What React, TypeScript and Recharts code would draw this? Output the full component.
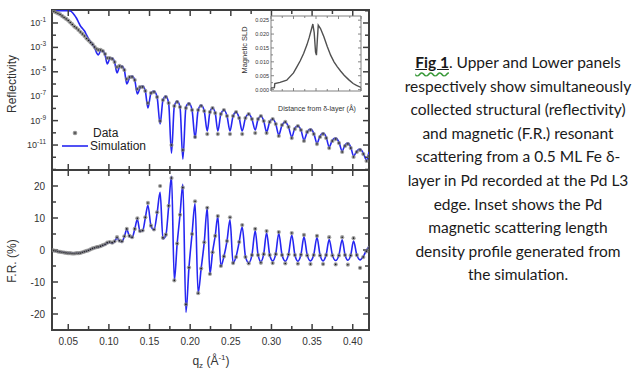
import React from "react";
import { ComposedChart, LineChart, Line, XAxis, YAxis, ReferenceArea, ReferenceLine } from "recharts";

// q grid (Å^-1): dense at low q, then four points per fringe
const qValues = [
  0.030, 0.0325, 0.035, 0.0375, 0.040, 0.0425, 0.045, 0.0475, 0.050, 0.0525, 0.055, 0.0575,
  0.060, 0.0625, 0.065, 0.0675, 0.070, 0.0725, 0.075, 0.0775, 0.080, 0.0825, 0.085,
  0.087, 0.0898, 0.0925, 0.0953,
  0.098, 0.101, 0.104, 0.107,
  0.110, 0.113, 0.116, 0.119,
  0.122, 0.1253, 0.1285, 0.1318,
  0.135, 0.1383, 0.1415, 0.1448,
  0.148, 0.1518, 0.1555, 0.1593,
  0.163, 0.1665, 0.170, 0.1735,
  0.177, 0.1805, 0.184, 0.1875,
  0.191, 0.1948, 0.1985, 0.2023,
  0.206, 0.2098, 0.2135, 0.2173,
  0.221, 0.2243, 0.2275, 0.2308,
  0.234, 0.2378, 0.2415, 0.2453,
  0.249, 0.2528, 0.2565, 0.2603,
  0.264, 0.268, 0.272, 0.276,
  0.280, 0.2835, 0.287, 0.2905,
  0.294, 0.2978, 0.3015, 0.3053,
  0.309, 0.313, 0.317, 0.321,
  0.325, 0.3288, 0.3325, 0.3363,
  0.340, 0.344, 0.348, 0.352,
  0.356, 0.3598, 0.3635, 0.3673,
  0.371, 0.375, 0.379, 0.383,
  0.387, 0.3905, 0.394, 0.3975,
  0.401, 0.405, 0.409, 0.413,
  0.417, 0.420,
];

// reflectivity, as log10 exponents
const simLogR = [
  0, 0, 0, 0, 0, 0, 0, 0, 0, -0.02, -0.14, -0.34,
  -0.59, -0.92, -1.25, -1.45, -1.66, -1.98, -2.31, -2.56, -2.76, -3.05, -3.46,
  -3.62, -3.30, -3.30, -3.62,
  -4.36, -3.95, -3.87, -4.20,
  -5.10, -4.61, -4.52, -4.85,
  -6.00, -5.51, -5.34, -5.67,
  -6.82, -6.33, -6.16, -6.57,
  -7.97, -6.74, -6.57, -7.07,
  -9.28, -7.31, -6.98, -7.56,
  -11.66, -7.80, -7.39, -7.89,
  -12.15, -7.89, -7.56, -8.13,
  -10.43, -8.13, -7.72, -8.21,
  -9.85, -8.30, -7.97, -8.38,
  -9.85, -8.46, -8.13, -8.62,
  -9.85, -8.62, -8.30, -8.79,
  -9.85, -8.79, -8.46, -8.87,
  -9.77, -8.87, -8.62, -9.03,
  -9.93, -9.11, -8.87, -9.28,
  -10.18, -9.36, -9.11, -9.52,
  -10.34, -9.61, -9.44, -9.77,
  -10.59, -9.93, -9.69, -10.02,
  -10.84, -10.26, -10.02, -10.34,
  -11.16, -10.59, -10.43, -10.75,
  -11.49, -11.00, -10.84, -11.16,
  -11.90, -11.49, -11.33, -11.66,
  -12.23, -11.57,
];

const dataLogR = [
  -0.02, -0.06, -0.14, -0.22, -0.30, -0.43, -0.55, -0.67, -0.80, -0.96, -1.12, -1.29,
  -1.41, -1.57, -1.74, -1.90, -2.07, -2.27, -2.43, -2.60, -2.76, -2.97, -3.13,
  -3.21, -3.21, -3.30, -3.54,
  -3.87, -3.87, -3.95, -4.20,
  -4.61, -4.52, -4.61, -4.85,
  -5.59, -5.43, -5.43, -5.67,
  -6.41, -6.25, -6.25, -6.57,
  -7.56, -6.74, -6.66, -7.07,
  -9.03, -7.31, -7.07, -7.56,
  -11.00, -7.80, -7.48, -7.89,
  -11.41, -7.97, -7.64, -8.13,
  -10.34, -8.13, -7.80, -8.21,
  -10.10, -8.30, -7.97, -8.38,
  -10.10, -8.46, -8.13, -8.62,
  -10.10, -8.62, -8.30, -8.79,
  -10.10, -8.79, -8.46, -8.87,
  -10.02, -8.87, -8.62, -9.03,
  -10.02, -9.11, -8.87, -9.28,
  -10.26, -9.36, -9.11, -9.52,
  -10.43, -9.69, -9.44, -9.77,
  -10.67, -9.93, -9.77, -10.10,
  -10.92, -10.34, -10.10, -10.43,
  -11.25, -10.67, -10.51, -10.84,
  -11.57, -11.08, -10.92, -11.25,
  -11.98, -11.57, -11.41, -11.74,
  -12.31, -11.90,
];

// flipping ratio (%)
const simFR = [
  0.0, -0.15, -0.3, -0.45, -0.55, -0.65, -0.75, -0.85, -0.9, -1.0, -1.0, -1.05,
  -1.0, -0.95, -0.85, -0.7, -0.5, -0.3, -0.05, 0.2, 0.45, 0.7, 0.85,
  0.9, 1.2, 1.4, 1.7,
  2.2, 2.4, 2.2, 2.6,
  3.8, 2.8, 2.6, 4.2,
  6.4, 4.3, 3.9, 6.5,
  9.6, 5.8, 6.0, 10.0,
  14.0, 7.5, 6.3, 11.5,
  18.0, 3.5, 4.5, 13.5,
  23.0, -9.5, 2.0, 11.0,
  20.5, -19.5, -5.5, 5.0,
  14.5, -13.5, -5.8, 2.4,
  13.2, -7.5, -0.7, 4.4,
  10.5, -5.0, -2.0, 2.8,
  9.4, -4.1, -2.0, 2.5,
  7.2, -2.0, -4.0, -1.5,
  6.0, -1.5, -3.6, -1.2,
  5.4, -1.5, -3.4, -1.2,
  5.2, -1.5, -3.5, -1.3,
  4.7, -1.5, -3.5, -1.4,
  4.1, -1.6, -3.4, -1.5,
  3.9, -1.6, -3.4, -1.5,
  3.3, -1.6, -3.3, -1.6,
  3.2, -1.5, -3.2, -1.6,
  2.8, -1.5, -3.1, -2.0,
  0.0, 1.0,
];

const dataFR = [
  0.0, -0.2, -0.3, -0.5, -0.6, -0.7, -0.8, -0.9, -1.0, -1.0, -1.1, -1.1,
  -1.0, -1.0, -0.9, -0.7, -0.5, -0.3, -0.1, 0.2, 0.5, 0.7, 0.9,
  1.0, 1.2, 1.5, 1.8,
  2.3, 2.5, 2.3, 2.7,
  4.0, 2.9, 2.7, 4.3,
  6.6, 4.4, 4.0, 6.6,
  9.9, 5.9, 6.1, 10.2,
  14.7, 7.6, 6.4, 11.8,
  20.0, 3.8, 4.8, 13.8,
  22.5, -9.5, 2.0, 11.0,
  19.5, -17.0, -5.5, 5.0,
  15.2, -13.5, -5.8, 2.4,
  13.2, -7.5, -0.7, 4.4,
  10.6, -5.0, -2.0, 2.8,
  10.2, -4.1, -2.2, 2.5,
  7.8, -2.2, -4.2, -1.6,
  6.6, -1.6, -4.0, -1.3,
  5.9, -1.6, -4.1, -1.3,
  5.6, -1.6, -4.2, -1.4,
  5.3, -1.6, -4.3, -1.5,
  4.7, -1.7, -4.4, -1.6,
  4.4, -1.7, -4.4, -1.6,
  4.0, -1.7, -4.5, -1.7,
  4.0, -1.6, -4.6, -1.7,
  3.7, -1.6, -5.6, -2.2,
  -0.4, 0.6,
];

// inset: magnetic SLD profile
const depth = [
  -20, -18.5, -18.3, -16, -13, -10, -8.5, -7, -5.5, -4, -3, -2, -1.4, -0.8, -0.2,
  0.2, 0.6, 1.0, 2, 3.5, 5, 6.5, 8, 9.5, 11, 12.5, 14.5, 16.5, 18, 20,
];
const magSLD = [
  0.0006, 0.0007, 0.0022, 0.0026, 0.0034, 0.006, 0.0082, 0.0104, 0.013, 0.0162, 0.0188,
  0.0218, 0.0236, 0.0205, 0.0135, 0.0124, 0.018, 0.0232, 0.022, 0.019, 0.0155, 0.0124,
  0.01, 0.0082, 0.0066, 0.0052, 0.0036, 0.0022, 0.0015, 0.0008,
];

const qTicks = [0.05, 0.075, 0.1, 0.125, 0.15, 0.175, 0.2, 0.225, 0.25, 0.275, 0.3, 0.325, 0.35, 0.375, 0.4];
const reflTicks = [1, 1e-1, 1e-2, 1e-3, 1e-4, 1e-5, 1e-6, 1e-7, 1e-8, 1e-9, 1e-10, 1e-11, 1e-12, 1e-13];
const frTicks = [-20, -15, -10, -5, 0, 5, 10, 15, 20];
const depthTicks = [-20, -15, -10, -5, 0, 5, 10, 15, 20];
const sldTicks = [0, 0.0025, 0.005, 0.0075, 0.01, 0.0125, 0.015, 0.0175, 0.02, 0.0225, 0.025];

const Q_DOMAIN: [number, number] = [0.03, 0.42];
const R_DOMAIN: [number, number] = [9e-14, 1.16];
const FR_DOMAIN: [number, number] = [-25, 25];
const D_DOMAIN: [number, number] = [-20, 20];
const SLD_DOMAIN: [number, number] = [-0.0005, 0.0265];

const rows = qValues.map((q, i) => ({
  q,
  sim: 10 ** simLogR[i],
  data: 10 ** dataLogR[i],
  simFR: simFR[i],
  dataFR: dataFR[i],
}));
const profile = depth.map((d, i) => ({ d, sld: magSLD[i] }));

const FONT = "'Liberation Sans', Arial, sans-serif";
const AX = "#3f3f3f";
const BLUE = "#2626f2";

// plot boxes in px, used to turn a tick length into data units
const MAIN_W = 317;
const MAIN_H = 160;
const INSET_W = 90;
const INSET_H = 75;
const Q_PX = (Q_DOMAIN[1] - Q_DOMAIN[0]) / MAIN_W;
const RDEC_PX = Math.log10(R_DOMAIN[1] / R_DOMAIN[0]) / MAIN_H;
const FR_PX = (FR_DOMAIN[1] - FR_DOMAIN[0]) / MAIN_H;
const D_PX = (D_DOMAIN[1] - D_DOMAIN[0]) / INSET_W;
const SLD_PX = (SLD_DOMAIN[1] - SLD_DOMAIN[0]) / INSET_H;

const qMajor = (v: number) => Math.round(v * 1000) % 50 === 0;
const logExp = (v: number) => Math.round(Math.log10(v));
const logMajor = (v: number) => {
  const e = logExp(v);
  return e % 2 !== 0 && e >= -11;
};
const frMajor = (v: number) => v % 10 === 0;
const dMajor = (v: number) => v % 10 === 0;
const sldMajor = (v: number) => Math.round(v * 10000) % 50 === 0;

type Pt = { x: number; y: number };
const tickSeg = (key: string, a: Pt, b: Pt, color = AX, w = 1.5) => (
  <ReferenceLine key={key} segment={[a, b]} stroke={color} strokeWidth={w} ifOverflow="visible" />
);

// inward tick marks for a framed panel
function frameTicks(
  id: string,
  xt: number[],
  yt: number[],
  xd: [number, number],
  yd: [number, number],
  xMajor: (v: number) => boolean,
  yMajor: (v: number) => boolean,
  lens: [number, number],
  xStep: (x: number, px: number) => number,
  yStep: (y: number, px: number) => number,
  color = AX,
  w = 1.5
) {
  const out: React.ReactNode[] = [];
  xt.forEach((v) => {
    const L = xMajor(v) ? lens[0] : lens[1];
    out.push(tickSeg(`${id}b${v}`, { x: v, y: yd[0] }, { x: v, y: yStep(yd[0], L) }, color, w));
    out.push(tickSeg(`${id}t${v}`, { x: v, y: yd[1] }, { x: v, y: yStep(yd[1], -L) }, color, w));
  });
  yt.forEach((v) => {
    const L = yMajor(v) ? lens[0] : lens[1];
    out.push(tickSeg(`${id}l${v}`, { x: xd[0], y: v }, { x: xStep(xd[0], L), y: v }, color, w));
    out.push(tickSeg(`${id}r${v}`, { x: xd[1], y: v }, { x: xStep(xd[1], -L), y: v }, color, w));
  });
  return out;
}

const linStep = (per: number) => (v: number, px: number) => v + px * per;
const logStep = (v: number, px: number) => v * 10 ** (px * RDEC_PX);

type LabelOpts = {
  side: "left" | "bottom";
  major: (v: number) => boolean;
  label: (v: number) => React.ReactNode;
  gap: number;
  size: number;
};
// tick labels only; the marks are drawn as reference segments
const makeLabel = (o: LabelOpts) => (p: any) => {
  const x = Number(p.x);
  const y = Number(p.y);
  const v = p.payload.value;
  if (!o.major(v)) return <g />;
  return o.side === "left" ? (
    <text x={x - o.gap} y={y} textAnchor="end" dominantBaseline="central" fontSize={o.size} fill="#333" fontFamily={FONT}>
      {o.label(v)}
    </text>
  ) : (
    <text x={x} y={y + o.gap} textAnchor="middle" dominantBaseline="central" fontSize={o.size} fill="#333" fontFamily={FONT}>
      {o.label(v)}
    </text>
  );
};

const renderDot = (p: any) => {
  if (p.cx == null || p.cy == null) return <g key={`n-${p.index}`} />;
  return (
    <g key={`dot-${p.index}`}>
      <circle cx={p.cx} cy={p.cy} r={2.1} fill="#808080" fillOpacity={0.75} />
      <circle cx={p.cx} cy={p.cy} r={0.8} fill="#1a1a1a" />
    </g>
  );
};

const Txt = ({ x, y, size, rotate, children, color = "#333", family = FONT }: any) => (
  <div
    style={{
      position: "absolute",
      left: x,
      top: y,
      transform: `translate(-50%, -50%)${rotate ? " rotate(-90deg)" : ""}`,
      fontSize: size,
      color,
      whiteSpace: "nowrap",
      lineHeight: 1,
      fontFamily: family,
    }}
  >
    {children}
  </div>
);

const axisCommon = { axisLine: false, tickLine: false, interval: 0 as const, allowDataOverflow: true, tickSize: 0, tickMargin: 0 };

export default function App() {
  return (
    <div style={{ position: "fixed", left: 0, top: 0, width: 640, height: 378, background: "#fff", overflow: "hidden", fontFamily: FONT }}>
      {/* upper panel: reflectivity */}
      <div style={{ position: "absolute", left: 0, top: 0 }}>
        <ComposedChart width={640} height={172} data={rows} margin={{ top: 10, right: 271, bottom: 2, left: 0 }}>
          <XAxis dataKey="q" type="number" domain={Q_DOMAIN} ticks={qTicks} height={0} tick={false} {...axisCommon} />
          <YAxis
            type="number"
            scale="log"
            domain={R_DOMAIN}
            ticks={reflTicks}
            width={52}
            tick={makeLabel({
              side: "left",
              major: logMajor,
              gap: 6,
              size: 9,
              label: (v) => (
                <>
                  10
                  <tspan dy={-4} fontSize={6.5}>
                    {logExp(v)}
                  </tspan>
                </>
              ),
            })}
            {...axisCommon}
          />
          <Line dataKey="sim" type="monotone" stroke={BLUE} strokeWidth={1.6} dot={false} isAnimationActive={false} />
          <Line dataKey="data" stroke="none" dot={renderDot} activeDot={false} isAnimationActive={false} />
          {frameTicks("r", qTicks, reflTicks, Q_DOMAIN, R_DOMAIN, qMajor, logMajor, [6, 4], linStep(Q_PX), logStep)}
          <ReferenceArea x1={Q_DOMAIN[0]} x2={Q_DOMAIN[1]} y1={R_DOMAIN[0]} y2={R_DOMAIN[1]} fill="none" stroke={AX} strokeWidth={2} ifOverflow="visible" />
        </ComposedChart>
      </div>

      {/* lower panel: flipping ratio */}
      <div style={{ position: "absolute", left: 0, top: 160 }}>
        <ComposedChart width={640} height={218} data={rows} margin={{ top: 10, right: 271, bottom: 0, left: 0 }}>
          <XAxis dataKey="q" type="number" domain={Q_DOMAIN} ticks={qTicks} height={48}
            tick={makeLabel({ side: "bottom", major: qMajor, gap: 11, size: 10, label: (v) => v.toFixed(2) })} {...axisCommon} />
          <YAxis type="number" domain={FR_DOMAIN} ticks={frTicks} width={52}
            tick={makeLabel({ side: "left", major: frMajor, gap: 7, size: 10, label: (v) => String(v) })} {...axisCommon} />
          <Line dataKey="simFR" type="monotone" stroke={BLUE} strokeWidth={1.6} dot={false} isAnimationActive={false} />
          <Line dataKey="dataFR" stroke="none" dot={renderDot} activeDot={false} isAnimationActive={false} />
          {frameTicks("f", qTicks, frTicks, Q_DOMAIN, FR_DOMAIN, qMajor, frMajor, [6, 4], linStep(Q_PX), linStep(FR_PX))}
          <ReferenceArea x1={Q_DOMAIN[0]} x2={Q_DOMAIN[1]} y1={FR_DOMAIN[0]} y2={FR_DOMAIN[1]} fill="none" stroke={AX} strokeWidth={2} ifOverflow="visible" />
        </ComposedChart>
      </div>

      {/* inset: magnetic SLD */}
      <div style={{ position: "absolute", left: 0, top: 0 }}>
        <LineChart width={640} height={104} data={profile} margin={{ top: 16, right: 279, bottom: 13, left: 225 }}>
          <XAxis dataKey="d" type="number" domain={D_DOMAIN} ticks={depthTicks} height={0}
            tick={makeLabel({ side: "bottom", major: dMajor, gap: 6, size: 5.5, label: (v) => String(v) })} {...axisCommon} />
          <YAxis type="number" domain={SLD_DOMAIN} ticks={sldTicks} width={46}
            tick={makeLabel({ side: "left", major: sldMajor, gap: 2, size: 5.5, label: (v) => v.toFixed(3) })} {...axisCommon} />
          <Line dataKey="sld" type="linear" stroke="#505050" strokeWidth={1.4} dot={false} isAnimationActive={false} />
          {frameTicks("i", depthTicks, sldTicks, D_DOMAIN, SLD_DOMAIN, dMajor, sldMajor, [3, 2], linStep(D_PX), linStep(SLD_PX), "#777", 0.9)}
          <ReferenceArea x1={D_DOMAIN[0]} x2={D_DOMAIN[1]} y1={SLD_DOMAIN[0]} y2={SLD_DOMAIN[1]} fill="none" stroke="#808080" strokeWidth={1} ifOverflow="visible" />
        </LineChart>
      </div>

      {/* axis titles */}
      <Txt x={12} y={84} size={12} rotate>Reflectivity</Txt>
      <Txt x={12} y={261} size={12} rotate>F.R. (%)</Txt>
      <Txt x={211} y={362} size={12}>
        q<span style={{ fontSize: 8, verticalAlign: "-3px" }}>z</span> (Å<span style={{ fontSize: 8, verticalAlign: "5px" }}>-1</span>)
      </Txt>
      <Txt x={245} y={50} size={7.5} rotate>Magnetic SLD</Txt>
      <Txt x={317} y={108} size={7}>Distance from δ-layer (Å)</Txt>

      {/* legend */}
      <svg style={{ position: "absolute", left: 0, top: 0 }} width={100} height={160}>
        <circle cx={75} cy={133} r={2.3} fill="#808080" fillOpacity={0.85} />
        <circle cx={75} cy={133} r={0.8} fill="#1a1a1a" />
        <line x1={62} y1={146} x2={88} y2={146} stroke={BLUE} strokeWidth={1.6} />
      </svg>
      <div style={{ position: "absolute", left: 93, top: 126, fontSize: 12, lineHeight: "14px", color: "#222" }}>Data</div>
      <div style={{ position: "absolute", left: 90, top: 139, fontSize: 12, lineHeight: "14px", color: "#222" }}>Simulation</div>

      {/* caption */}
      <div
        style={{
          position: "absolute",
          left: 393,
          top: 51,
          width: 250,
          textAlign: "center",
          fontFamily: "Lato, 'Open Sans', sans-serif",
          fontSize: 15.5,
          lineHeight: "23.6px",
          color: "#1a1a1a",
        }}
      >
        <span style={{ fontWeight: 700, textDecoration: "underline" }}>
          <span style={{ textDecoration: "underline wavy #3a9a3a", textUnderlineOffset: "3px" }}>Fig 1</span>
        </span>
        . Upper and Lower panels
        <br />
        respectively show simultaneously
        <br />
        collected structural (reflectivity)
        <br />
        and magnetic (F.R.) resonant
        <br />
        scattering from a 0.5 ML Fe δ-
        <br />
        layer in Pd recorded at the Pd L3
        <br />
        edge. Inset shows the Pd
        <br />
        magnetic scattering length
        <br />
        density profile generated from
        <br />
        the simulation.
      </div>
    </div>
  );
}
